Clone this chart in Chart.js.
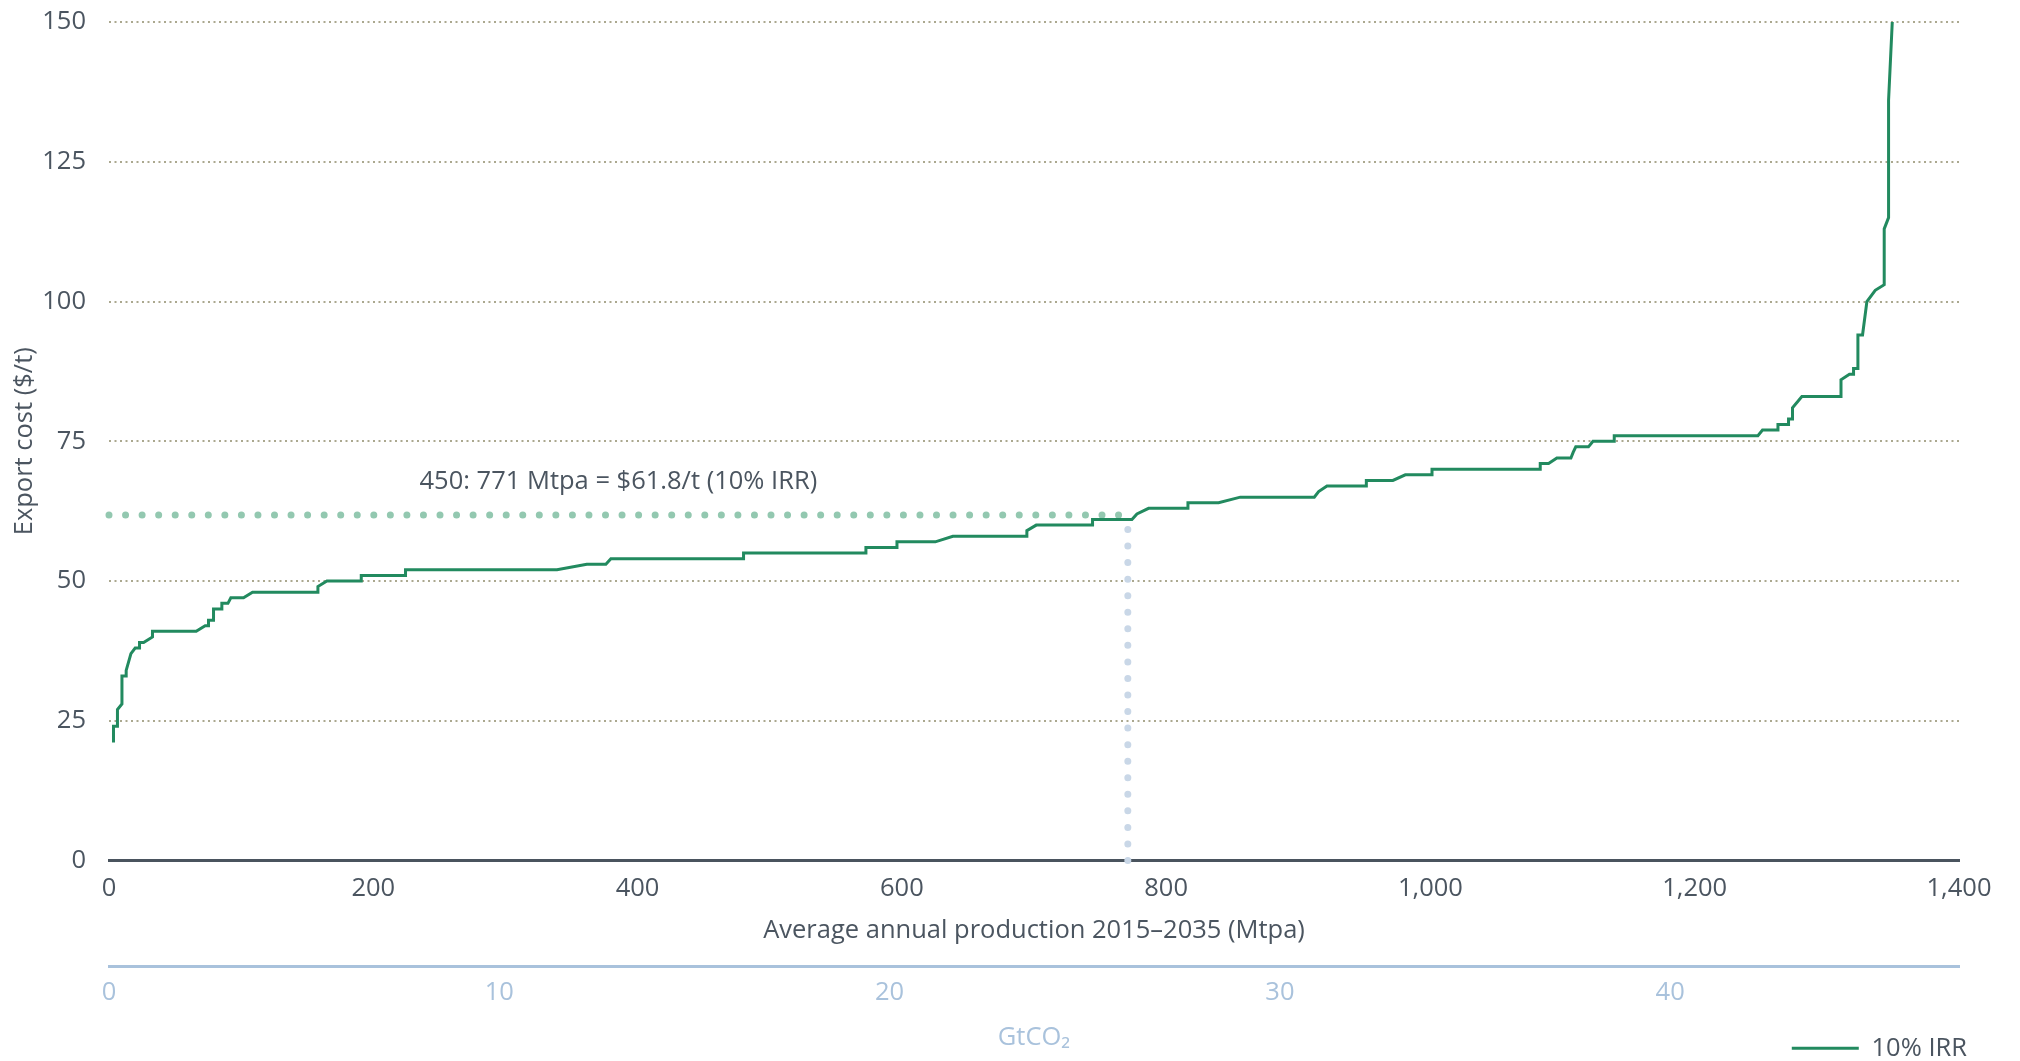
<!DOCTYPE html>
<html>
<head>
<meta charset="utf-8">
<script src="https://cdn.jsdelivr.net/npm/chart.js@4.4.1/dist/chart.umd.min.js"></script>
<style>
  html, body { margin: 0; padding: 0; background: #ffffff; }
  #wrap { width: 2020px; height: 1061px; position: relative; }
</style>
</head>
<body>
<div id="wrap"><canvas id="c" width="2020" height="1061"></canvas></div>
<script>
// ---- Data ----
const seriesLabel = '10% IRR';
const production = [3.4, 3.4, 6.4, 6.4, 9.8, 9.8, 13, 13, 16.6, 19.8, 23.1, 23.1, 26.2, 32.9, 32.9, 66, 72.8, 75.3, 75.3, 79.1, 79.1, 85.4, 85.4, 90, 92.2, 101.8, 108.6, 158.1, 158.1, 164.9, 190.9, 190.9, 224.4, 224.4, 339, 361.6, 376, 379.8, 480.2, 480.2, 572.8, 572.8, 596.3, 596.3, 625.3, 638.6, 694.6, 694.6, 701.7, 744.3, 744.3, 774.1, 777.9, 786.7, 816.5, 816.5, 839.7, 856.1, 912.1, 915.4, 921.7, 951.5, 951.5, 971.6, 981, 1001.2, 1001.2, 1083.1, 1083.1, 1089.4, 1095.7, 1106.3, 1108, 1110, 1119.6, 1123, 1139.1, 1139.1, 1247.8, 1251.3, 1263, 1263, 1271, 1271, 1274, 1274, 1281.1, 1310.7, 1310.7, 1317.1, 1320.2, 1320.2, 1323.5, 1323.5, 1327, 1330.3, 1336.6, 1343.4, 1343.4, 1346.7, 1346.7, 1349.5];
const exportCost = [21.1, 24, 24, 27, 28, 33, 33, 34, 37, 38, 38, 39, 39, 40, 41, 41, 42, 42, 43, 43, 45, 45, 46, 46, 47, 47, 48, 48, 49, 50, 50, 51, 51, 52, 52, 53, 53, 54, 54, 55, 55, 56, 56, 57, 57, 58, 58, 59, 60, 60, 61, 61, 62, 63, 63, 64, 64, 65, 65, 66, 67, 67, 68, 68, 69, 69, 70, 70, 71, 71, 72, 72, 73, 74, 74, 75, 75, 76, 76, 77, 77, 78, 78, 79, 79, 81, 83, 83, 86, 87, 87, 88, 88, 94, 94, 100, 102, 103, 113, 115, 136, 150];

const refProduction = 771;
const refCost = 61.8;
const annotationText = '450: 771 Mtpa = $61.8/t (10% IRR)';
const annotationAt = [235, 67.7];

const yTicks = [0, 25, 50, 75, 100, 125, 150];
const xTicks = [0, 200, 400, 600, 800, 1000, 1200, 1400];
const co2Ticks = [0, 10, 20, 30, 40];
const co2Max = 47.4;

const yTitle = 'Export cost ($/t)';
const xTitle = 'Average annual production 2015\u20132035 (Mtpa)';
const co2Title = 'GtCO\u2082';

// ---- Styles ----
const FONT = '"Open Sans"';
const FS = 25.5;
const TEXT = '#4b5560';
const GREEN = '#228a5f';
const CO2 = '#a9c2dc';

const curve = production.map((x, i) => ({ x, y: exportCost[i] }));
const hRef = [{ x: 0, y: refCost }, { x: refProduction, y: refCost }];
const vRef = [{ x: refProduction, y: 0 }, { x: refProduction, y: refCost }];

const annotationPlugin = {
  id: 'annot',
  afterDatasetsDraw(chart) {
    const { ctx, scales } = chart;
    ctx.save();
    ctx.font = `${FS}px ${FONT}`;
    ctx.fillStyle = TEXT;
    ctx.textBaseline = 'middle';
    ctx.textAlign = 'left';
    ctx.fillText(annotationText, scales.x.getPixelForValue(annotationAt[0]), scales.y.getPixelForValue(annotationAt[1]));
    ctx.restore();
  }
};

Chart.defaults.font.family = FONT;
Chart.defaults.font.size = FS;
Chart.defaults.color = TEXT;

new Chart(document.getElementById('c'), {
  type: 'scatter',
  data: {
    datasets: [
      { label: seriesLabel, data: curve, showLine: true, borderColor: GREEN, backgroundColor: GREEN,
        borderWidth: 3, pointRadius: 0, tension: 0, clip: false },
      { label: 'ref-h', data: hRef, showLine: true, borderColor: '#93c8b0', borderWidth: 7,
        borderDash: [0, 16.55], borderCapStyle: 'round', pointRadius: 0, clip: false },
      { label: 'ref-v', data: vRef, showLine: true, borderColor: '#c9d7e7', borderWidth: 7,
        borderDash: [0, 16.55], borderCapStyle: 'round', pointRadius: 0, clip: false }
    ]
  },
  options: {
    responsive: false,
    animation: false,
    layout: { padding: { top: 22, left: 0, right: 43, bottom: -10 } },
    plugins: {
      tooltip: { enabled: false },
      legend: {
        position: 'bottom', align: 'end',
        labels: {
          usePointStyle: true, pointStyle: 'line', pointStyleWidth: 67, padding: 10,
          color: TEXT, font: { size: FS, family: FONT },
          filter: item => item.datasetIndex === 0
        }
      }
    },
    scales: {
      x: {
        type: 'linear', position: 'bottom', min: 0, max: 1400,
        afterBuildTicks: s => { s.ticks = xTicks.map(v => ({ value: v })); },
        ticks: { padding: 13, color: TEXT, maxRotation: 0, autoSkip: false },
        grid: { display: false, drawTicks: false },
        border: { display: true, color: '#4a545e', width: 3 },
        title: { display: true, text: xTitle, color: TEXT, padding: { top: 0, bottom: 20 } },
        afterFit: s => { s.height = 106; s.paddingLeft = 0; s.paddingRight = 0; }
      },
      x2: {
        type: 'linear', position: 'bottom', min: 0, max: co2Max,
        afterBuildTicks: s => { s.ticks = co2Ticks.map(v => ({ value: v })); },
        ticks: { padding: 11, color: CO2, maxRotation: 0, autoSkip: false },
        grid: { display: false, drawTicks: false },
        border: { display: true, color: CO2, width: 3 },
        title: { display: true, text: co2Title, color: CO2, padding: { top: 0, bottom: -28 } },
        afterFit: s => { s.height = 59; s.paddingLeft = 0; s.paddingRight = 0; }
      },
      y: {
        type: 'linear', position: 'left', min: 0, max: 150,
        afterBuildTicks: s => { s.ticks = yTicks.map(v => ({ value: v })); },
        ticks: { padding: 23, color: TEXT },
        grid: {
          drawTicks: false, lineWidth: 2,
          color: c => (c.tick && c.tick.value === 0) ? 'rgba(0,0,0,0)' : '#aba88f'
        },
        border: { display: false, dash: [2, 3.5] },
        title: { display: true, text: yTitle, color: TEXT, padding: { top: 9, bottom: 0 } },
        afterFit: s => { s.width = 109; s.paddingTop = 0; s.paddingBottom = 0; }
      },
      yR: {
        type: 'linear', position: 'right', display: true,
        grid: { display: false, drawTicks: false },
        border: { display: false },
        ticks: { display: false },
        afterFit: s => { s.width = 18; s.paddingTop = 0; s.paddingBottom = 0; }
      }
    }
  },
  plugins: [annotationPlugin]
});
</script>
</body>
</html>
